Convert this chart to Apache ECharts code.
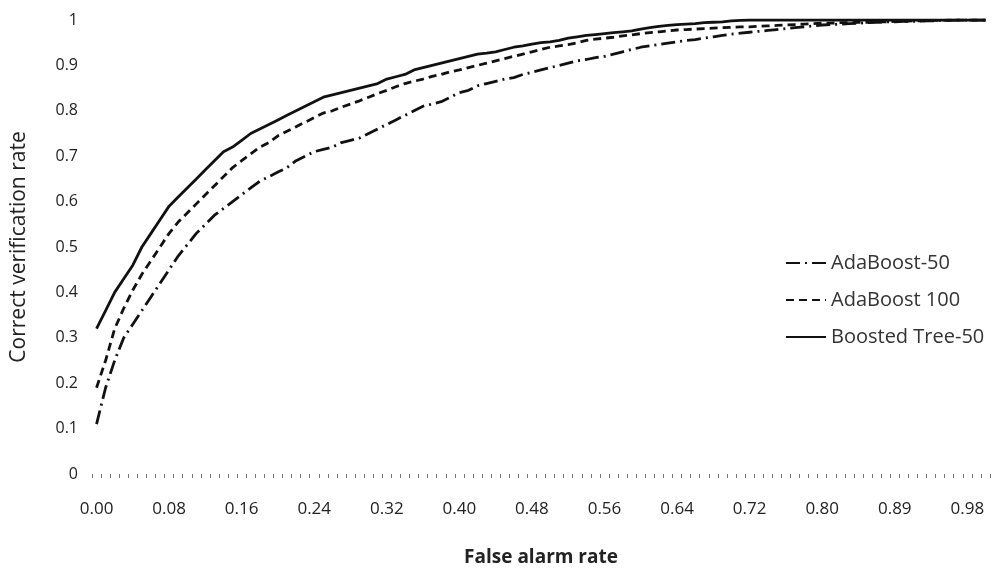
<!DOCTYPE html>
<html>
<head>
<meta charset="utf-8">
<script src="https://cdn.jsdelivr.net/npm/echarts@6/dist/echarts.min.js"></script>
<style>
  html, body { margin: 0; padding: 0; background: #fff; }
  #chart { width: 992px; height: 572px; }
</style>
</head>
<body>
<div id="chart"></div>
<script>
// false alarm rate categories (labels shown every 8th)
const falseAlarm = [
  '0.00','0.01','0.02','0.03','0.04','0.05','0.06','0.07','0.08','0.09',
  '0.10','0.11','0.12','0.13','0.14','0.15','0.16','0.17','0.18','0.19',
  '0.20','0.21','0.22','0.23','0.24','0.25','0.26','0.27','0.28','0.29',
  '0.30','0.31','0.32','0.33','0.34','0.35','0.36','0.37','0.38','0.39',
  '0.40','0.41','0.42','0.43','0.44','0.45','0.46','0.47','0.48','0.49',
  '0.50','0.51','0.52','0.53','0.54','0.55','0.56','0.57','0.58','0.59',
  '0.60','0.61','0.62','0.63','0.64','0.65','0.66','0.67','0.68','0.69',
  '0.70','0.71','0.72','0.73','0.74','0.75','0.76','0.77','0.78','0.79',
  '0.80','0.81','0.82','0.83','0.84','0.86','0.87','0.88','0.89','0.90',
  '0.91','0.92','0.93','0.95','0.96','0.97','0.98','0.99','1.00'
]

const adaBoost50 = [
  0.11,0.19,0.25,0.30,0.33,0.36,0.39,0.42,0.45,0.48,
  0.505,0.53,0.55,0.57,0.585,0.60,0.615,0.63,0.645,0.655,
  0.665,0.675,0.69,0.70,0.71,0.715,0.72,0.73,0.735,0.74,
  0.75,0.76,0.77,0.78,0.79,0.80,0.81,0.815,0.82,0.83,
  0.84,0.845,0.855,0.86,0.865,0.87,0.873,0.88,0.885,0.89,
  0.895,0.90,0.905,0.91,0.913,0.917,0.92,0.925,0.93,0.935,
  0.94,0.943,0.946,0.949,0.952,0.955,0.957,0.96,0.963,0.966,
  0.969,0.971,0.973,0.975,0.977,0.979,0.981,0.983,0.985,0.987,
  0.989,0.99,0.991,0.992,0.993,0.994,0.995,0.996,0.996,0.997,
  0.997,0.998,0.998,0.999,0.999,1,1,1,1
]

const adaBoost100 = [
  0.19,0.25,0.32,0.365,0.405,0.44,0.47,0.50,0.53,0.555,
  0.575,0.595,0.615,0.635,0.655,0.675,0.69,0.705,0.72,0.73,
  0.745,0.755,0.765,0.775,0.785,0.795,0.80,0.808,0.815,0.822,
  0.83,0.838,0.845,0.853,0.86,0.865,0.87,0.876,0.88,0.886,
  0.89,0.895,0.90,0.905,0.91,0.915,0.92,0.925,0.93,0.935,
  0.94,0.943,0.946,0.95,0.955,0.958,0.96,0.962,0.965,0.967,
  0.97,0.972,0.974,0.976,0.978,0.979,0.98,0.981,0.982,0.983,
  0.984,0.985,0.985,0.986,0.987,0.988,0.989,0.99,0.991,0.992,
  0.993,0.993,0.994,0.994,0.995,0.995,0.996,0.996,0.997,0.997,
  0.998,0.998,0.999,0.999,1,1,1,1,1
]

const boostedTree50 = [
  0.32,0.36,0.40,0.43,0.46,0.50,0.53,0.56,0.59,0.61,
  0.63,0.65,0.67,0.69,0.71,0.72,0.735,0.75,0.76,0.77,
  0.78,0.79,0.80,0.81,0.82,0.83,0.835,0.84,0.845,0.85,
  0.855,0.86,0.87,0.875,0.88,0.89,0.895,0.90,0.905,0.91,
  0.915,0.92,0.925,0.927,0.93,0.935,0.94,0.943,0.947,0.95,
  0.952,0.955,0.96,0.963,0.966,0.968,0.97,0.972,0.974,0.976,
  0.98,0.983,0.986,0.988,0.99,0.991,0.992,0.994,0.995,0.996,
  0.998,0.999,1,1,1,1,1,1,1,1,
  1,1,1,1,1,1,1,1,1,1,
  1,1,1,1,1,1,1,1,1
]

const font = "'Open Sans', 'DejaVu Sans', sans-serif"

const chart = echarts.init(document.getElementById('chart'), null, { renderer: 'canvas' })

function line(name, values, type) {
  return {
    name: name,
    type: 'line',
    data: values,
    symbol: 'none',
    showSymbol: false,
    lineStyle: { color: '#111', width: 2.8, type: type },
    itemStyle: { color: '#111' }
  }
}

chart.setOption({
  animation: false,
  backgroundColor: '#fff',
  textStyle: { fontFamily: font },
  grid: { left: 92, right: 2, top: 20, bottom: 92 },
  legend: {
    orient: 'vertical',
    left: 780,
    top: 248,
    itemWidth: 40,
    itemHeight: 12,
    itemGap: 17,
    itemStyle: { opacity: 0 },
    textStyle: { fontFamily: font, fontSize: 20, color: '#333' },
    data: ['AdaBoost-50', 'AdaBoost 100', 'Boosted Tree-50']
  },
  xAxis: {
    type: 'category',
    data: falseAlarm,
    boundaryGap: true,
    name: 'False alarm rate',
    nameLocation: 'middle',
    nameGap: 74,
    nameTextStyle: { fontFamily: font, fontSize: 19, fontWeight: 'bold', color: '#222' },
    axisLine: { show: false },
    axisTick: { show: true, interval: 0, length: 4, lineStyle: { color: '#777' } },
    axisLabel: { interval: 7, margin: 27, fontFamily: font, fontSize: 17, color: '#222' },
    splitLine: { show: false }
  },
  yAxis: {
    type: 'value',
    min: 0,
    max: 1,
    interval: 0.1,
    name: 'Correct verification rate',
    nameLocation: 'middle',
    nameGap: 62,
    nameTextStyle: { fontFamily: font, fontSize: 21, color: '#222' },
    axisLine: { show: false },
    axisTick: { show: false },
    axisLabel: {
      margin: 14,
      fontFamily: font,
      fontSize: 16,
      color: '#222',
      formatter: function (v) { return (v === 0 || v === 1) ? String(v) : v.toFixed(1) }
    },
    splitLine: { show: false }
  },
  series: [
    line('AdaBoost-50', adaBoost50, [14, 5, 2, 5]),
    line('AdaBoost 100', adaBoost100, [8, 5]),
    line('Boosted Tree-50', boostedTree50, 'solid')
  ]
})
</script>
</body>
</html>
